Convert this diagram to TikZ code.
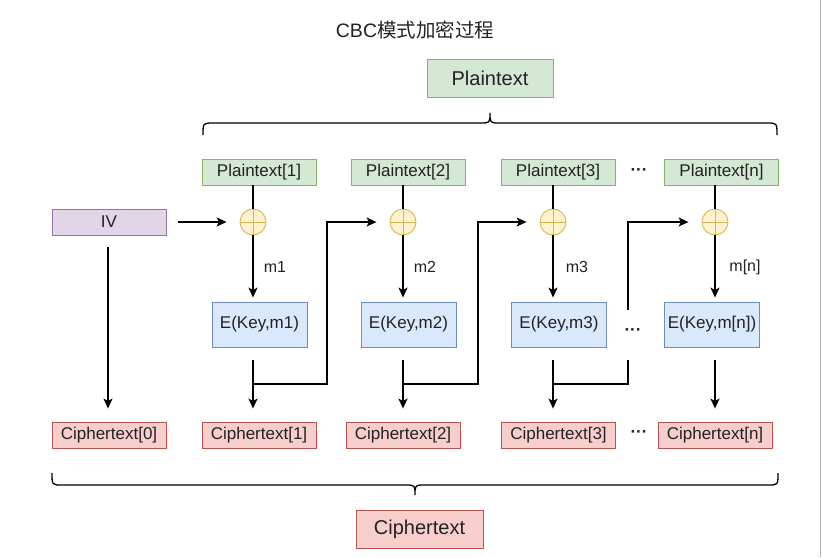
\documentclass[tikz,border=0pt]{standalone}
\usepackage{fontspec}
\setmainfont{Liberation Sans}
\newfontfamily\cjk{Noto Sans CJK SC}
\usetikzlibrary{arrows.meta,calc}
\definecolor{gfill}{HTML}{D5E8D4}\definecolor{gdraw}{HTML}{82B366}
\definecolor{pfill}{HTML}{E1D5E7}\definecolor{pdraw}{HTML}{9673A6}
\definecolor{bfill}{HTML}{DAE8FC}\definecolor{bdraw}{HTML}{6C8EBF}
\definecolor{rfill}{HTML}{F8CECC}\definecolor{rdraw}{HTML}{B85450}
\definecolor{yfill}{HTML}{FFF2CC}\definecolor{ydraw}{HTML}{D6B656}
\definecolor{txt}{HTML}{222222}
\begin{document}
\begin{tikzpicture}[x=1pt,y=-1pt,
  font=\fontsize{17}{20}\selectfont, text=txt,
  box/.style={draw, line width=0.9pt, inner sep=0pt, minimum height=26pt, minimum width=114pt},
  gbox/.style={box, draw=gdraw, fill=gfill},
  rbox/.style={box, draw=rdraw, fill=rfill},
  pbox/.style={box, draw=pdraw, fill=pfill},
  ebox/.style={box, draw=bdraw, fill=bfill, minimum width=95pt, minimum height=45pt},
  bigbox/.style={draw, line width=0.9pt, inner sep=0pt, minimum height=38pt, minimum width=126pt, font=\fontsize{20}{24}\selectfont},
  xorn/.style={circle, draw=ydraw, fill=yfill, line width=0.9pt, minimum size=26pt, inner sep=0pt,
    path picture={\draw[ydraw, line width=0.9pt] (path picture bounding box.north) -- (path picture bounding box.south)
      (path picture bounding box.west) -- (path picture bounding box.east);}},
  conn/.style={line width=1.3pt, black},
  arr/.style={conn, -{Stealth[length=10pt,width=9pt,inset=2.5pt]}},
  lab/.style={inner sep=0pt, font=\fontsize{16}{19}\selectfont},
  dots/.style={inner sep=0pt, font=\fontsize{17}{20}\selectfont\bfseries},
  bracestyle/.style={line width=1.3pt, black}
]
\useasboundingbox (0,0) rectangle (822,557);
\draw[gray!60, line width=1.5pt] (820.5,0) -- (820.5,557);

% title
\node[inner sep=0pt, font=\fontsize{19.5}{23}\selectfont] (title) at (415,30) {CBC{\cjk 模式加密过程}};

% big plaintext
\node[bigbox, draw=gdraw, fill=gfill] (pt) at (490,78) {Plaintext};
\draw[bracestyle] (203,135) .. controls (203,123) .. (213,123) -- (480,123)
  .. controls (490,123) .. (490,113) .. controls (490,123) .. (500,123) -- (767,123)
  .. controls (777,123) .. (777,135);

% plaintext blocks
\node[gbox] (p1) at (259,172) {Plaintext[1]};
\node[gbox] (p2) at (408,172) {Plaintext[2]};
\node[gbox] (p3) at (558,172) {Plaintext[3]};
\node[gbox] (pn) at (721.5,172) {Plaintext[n]};
\node[dots] (d1) at (639,172) {···};

% IV
\node[pbox] (iv) at (109,222) {IV};

% xor
\node[xorn] (x1) at (253,222) {};
\node[xorn] (x2) at (403,222) {};
\node[xorn] (x3) at (553,222) {};
\node[xorn] (xn) at (715,222) {};

% encryption
\node[ebox] (e1) at (259.5,324.5) {E(Key,m1)};
\node[ebox] (e2) at (408.5,324.5) {E(Key,m2)};
\node[ebox] (e3) at (559,324.5) {E(Key,m3)};
\node[ebox] (en) at (712,324.5) {E(Key,m[n])};
\node[dots] (d2) at (633,332) {···};

% labels
\node[lab] (m1) at (275,267) {m1};
\node[lab] (m2) at (425,267) {m2};
\node[lab] (m3) at (577,267) {m3};
\node[lab] (mn) at (745,267) {m[n]};

% ciphertext blocks
\node[rbox] (c0) at (109,435) {Ciphertext[0]};
\node[rbox] (c1) at (259,435) {Ciphertext[1]};
\node[rbox] (c2) at (403,435) {Ciphertext[2]};
\node[rbox] (c3) at (558.5,435) {Ciphertext[3]};
\node[rbox] (cn) at (715,435) {Ciphertext[n]};
\node[dots] (d3) at (639,434) {···};

% bottom brace and ciphertext
\draw[bracestyle] (52,473) .. controls (52,485) .. (62,485) -- (405,485)
  .. controls (415,485) .. (415,495) .. controls (415,485) .. (425,485) -- (768,485)
  .. controls (778,485) .. (778,473);
\node[bigbox, draw=rdraw, fill=rfill, minimum width=127pt] (ct) at (419.5,529) {Ciphertext};

% plaintext -> xor
\draw[conn] (x1 |- p1.south) -- (x1.north);
\draw[conn] (x2 |- p2.south) -- (x2.north);
\draw[conn] (x3 |- p3.south) -- (x3.north);
\draw[conn] (xn |- pn.south) -- (xn.north);

% IV connections
\draw[arr, shorten <=12pt, shorten >=13pt] (iv.east) -- (x1.west);
\draw[arr, shorten <=12pt, shorten >=13pt] ([xshift=-1pt]iv.south) -- ([xshift=-1pt]c0.north);

% xor -> E
\draw[arr, shorten >=4pt] (x1.south) -- (x1 |- e1.north);
\draw[arr, shorten >=4pt] (x2.south) -- (x2 |- e2.north);
\draw[arr, shorten >=4pt] (x3.south) -- (x3 |- e3.north);
\draw[arr, shorten >=4pt] (xn.south) -- (xn |- en.north);

% E -> ciphertext
\draw[arr, shorten <=13pt, shorten >=13pt] (x1 |- e1.south) -- (x1 |- c1.north);
\draw[arr, shorten <=13pt, shorten >=13pt] (x2 |- e2.south) -- (x2 |- c2.north);
\draw[arr, shorten <=13pt, shorten >=13pt] (x3 |- e3.south) -- (x3 |- c3.north);
\draw[arr, shorten <=13pt, shorten >=13pt] (xn |- en.south) -- (xn |- cn.north);

% feedback
\coordinate (f1) at (327,384);
\coordinate (f2) at (478,384);
\coordinate (f3) at (628,384);
\coordinate (g3) at (628,360);
\coordinate (h3) at (628,310);
\draw[arr, shorten >=13pt] (x1 |- f1) -- (f1) -- (f1 |- x2) -- (x2.west);
\draw[arr, shorten >=13pt] (x2 |- f2) -- (f2) -- (f2 |- x3) -- (x3.west);
\draw[conn] (x3 |- f3) -- (f3) -- (g3);
\draw[arr, shorten >=13pt] (h3) -- (h3 |- xn) -- (xn.west);
\end{tikzpicture}
\end{document}
